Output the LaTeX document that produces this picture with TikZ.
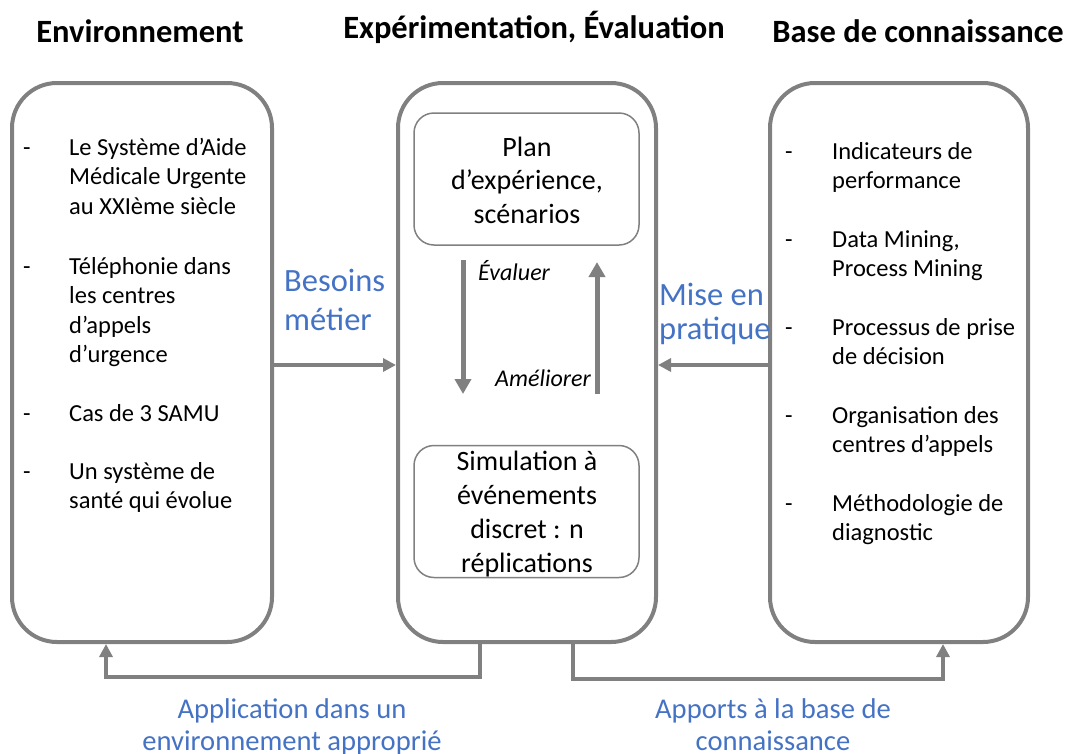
\documentclass[tikz,border=0pt]{standalone}
\usepackage{fontspec}
\setmainfont{Carlito}
\usetikzlibrary{arrows.meta}
\definecolor{frame}{RGB}{128,128,128}
\definecolor{lblue}{RGB}{68,114,196}
\begin{document}
\begin{tikzpicture}[x=1pt,y=-1pt,
  bigbox/.style={draw=frame, line width=4pt, rounded corners=45pt, inner sep=0pt,
    minimum width=#1, minimum height=559pt},
  innerbox/.style={draw=frame, line width=1.5pt, rounded corners=20pt, inner sep=0pt,
    minimum width=225pt, minimum height=132pt},
  head/.style={font=\fontsize{32.5}{37}\selectfont\bfseries, anchor=base, inner sep=0pt},
  item/.style={font=\fontsize{24.5}{29.5}\selectfont, align=left, anchor=base west, inner sep=0pt},
  dashmark/.style={font=\fontsize{24.5}{29.5}\selectfont, anchor=base west, inner sep=0pt},
  midtext/.style={font=\fontsize{28}{33.8}\selectfont, align=center, anchor=base, inner sep=0pt},
  bluelbl/.style={font=\fontsize{32.5}{#1}\selectfont, text=lblue, align=left, anchor=base west, inner sep=0pt},
  bottomlbl/.style={font=\fontsize{28.6}{32}\selectfont, text=lblue, align=center, anchor=base, inner sep=0pt},
  itlbl/.style={font=\fontsize{24}{29}\selectfont\itshape, anchor=base west, inner sep=0pt},
  conn/.style={draw=frame, line width=4pt, -{Triangle[length=13pt,width=13pt]}},
  loop/.style={draw=frame, line width=5pt, -{Triangle[length=15pt,width=16pt]}}
]
\useasboundingbox (0,0) rectangle (1065,753);

% headings
\node[head] (h1) at (140,42) {Environnement};
\node[head] (h2) at (534,38) {Expérimentation, Évaluation};
\node[head] (h3) at (918,42) {Base de connaissance};

% big boxes
\node[bigbox=260pt] (env) at (142,362.5) {};
\node[bigbox=258pt] (exp) at (527,362.5) {};
\node[bigbox=258pt] (kb) at (899,362.5) {};

% inner boxes
\node[innerbox] (plan) at (526.5,179) {};
\node[innerbox] (sim) at (526.5,511.5) {};

% left box items (base = baseline of last line)
\node[dashmark] (d1) at (23,155) {-};
\node[item] (l1) at (69,214) {Le Système d’Aide\\Médicale Urgente\\au XXIème siècle};
\node[dashmark] (d2) at (23,274) {-};
\node[item] (l2) at (69,362.5) {Téléphonie dans\\les centres\\d’appels\\d’urgence};
\node[dashmark] (d3) at (23,421) {-};
\node[item] (l3) at (69,421) {Cas de 3 SAMU};
\node[dashmark] (d4) at (23,479) {-};
\node[item] (l4) at (69,508.5) {Un système de\\santé qui évolue};

% right box items
\node[dashmark] (e1) at (785,159) {-};
\node[item] (r1) at (832,188.5) {Indicateurs de\\performance};
\node[dashmark] (e2) at (785,247) {-};
\node[item] (r2) at (832,276.5) {Data Mining,\\Process Mining};
\node[dashmark] (e3) at (785,335) {-};
\node[item] (r3) at (832,364.5) {Processus de prise\\de décision};
\node[dashmark] (e4) at (785,423) {-};
\node[item] (r4) at (832,452.5) {Organisation des\\centres d’appels};
\node[dashmark] (e5) at (785,511) {-};
\node[item] (r5) at (832,540.5) {Méthodologie de\\diagnostic};

% middle texts
\node[midtext] (pt) at (527,223.6) {Plan\\d’expérience,\\scénarios};
\node[midtext] (st) at (527,572) {Simulation à\\événements\\discret : n\\réplications};

% loop arrows
\coordinate (a1s) at (463,260);
\coordinate (a1e) at (463,394);
\coordinate (a2s) at (597,394);
\coordinate (a2e) at (597,262);
\draw[loop] (a1s) -- (a1e);
\draw[loop] (a2s) -- (a2e);
\node[itlbl] (ev) at (478,280) {Évaluer};
\node[itlbl] (am) at (495,386) {Améliorer};

% side connectors
\draw[conn] (env.east |- 0,365) -- (exp.west |- 0,365);
\draw[conn] (kb.west |- 0,365) -- (exp.east |- 0,365);
\node[bluelbl=39] (bm) at (284,330) {Besoins\\métier};
\node[bluelbl=34] (mp) at (659,339) {Mise en\\pratique};

% bottom connectors
\draw[conn] (exp.south -| 480,0) -- (480,677) -- (106,677) -- (env.south -| 106,0);
\draw[conn] (exp.south -| 573,0) -- (573,679) -- (943,679) -- (kb.south -| 943,0);
\node[bottomlbl] (ap) at (292,750) {Application dans un\\environnement approprié};
\node[bottomlbl] (ab) at (773,750) {Apports à la base de\\connaissance};
\end{tikzpicture}
\end{document}
